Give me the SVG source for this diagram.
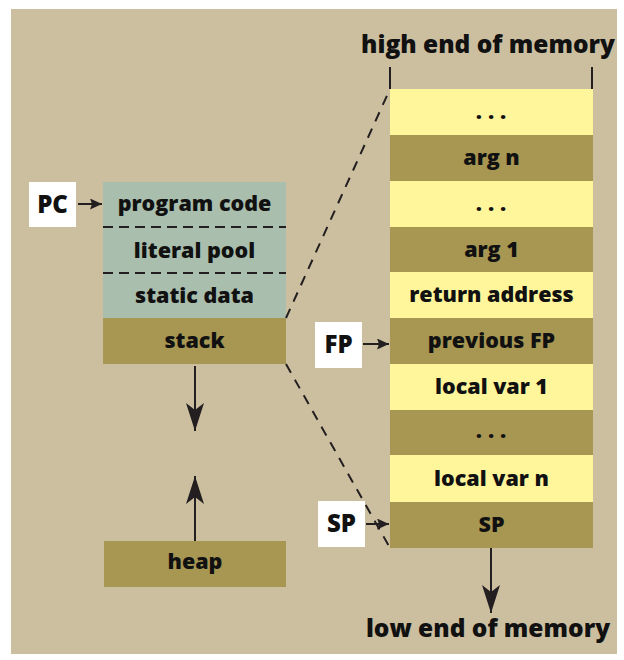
<svg xmlns="http://www.w3.org/2000/svg" width="624" height="660" viewBox="0 0 624 660">
  <style>
    .t { font-family: "Open Sans", Lato, "Liberation Sans", sans-serif; font-weight: 800; fill: #111; text-anchor: middle; }
    .cell { font-size: 21.5px; }
    .lbl { font-size: 24px; }
    .big { font-size: 24.5px; }
    .olive { fill: #A89752; }
    .yel { fill: #FFF59A; }
    .grn { fill: #A9BEAD; }
    .wht { fill: #FFFFFF; }
    .ln { stroke: #231F20; stroke-width: 2; fill: none; }
    .dash { stroke: #231F20; stroke-width: 2; fill: none; stroke-dasharray: 10 8; }
  </style>
  <defs>
    <marker id="ah" viewBox="0 0 28 18" refX="28" refY="9" markerWidth="28" markerHeight="18" orient="auto" markerUnits="userSpaceOnUse">
      <path d="M0,0 L28,9 L0,18 L7,9 Z" fill="#231F20"/>
    </marker>
    <marker id="ahs" viewBox="0 0 12 11" refX="12" refY="5.5" markerWidth="12" markerHeight="11" orient="auto" markerUnits="userSpaceOnUse">
      <path d="M0,0 L12,5.5 L0,11 L2,5.5 Z" fill="#231F20"/>
    </marker>
  </defs>

  <rect x="11" y="9" width="606" height="645" fill="#CCBFA0"/>

  <g id="code-block">
    <rect class="grn" x="103" y="182" width="183" height="136"/>
    <line class="ln" x1="103" y1="227" x2="286" y2="227" stroke-dasharray="10 6"/>
    <line class="ln" x1="103" y1="273" x2="286" y2="273" stroke-dasharray="10 6"/>
    <text class="t cell" x="194.5" y="211">program code</text>
    <text class="t cell" x="194.5" y="258">literal pool</text>
    <text class="t cell" x="194.5" y="303">static data</text>
  </g>
  <g id="stack">
    <rect class="olive" x="103" y="318" width="183" height="46"/>
    <text class="t cell" x="194.5" y="348">stack</text>
  </g>
  <g id="heap">
    <rect class="olive" x="104" y="541" width="182" height="46"/>
    <text class="t cell" x="195" y="569">heap</text>
  </g>

  <g id="pc">
    <rect class="wht" x="29" y="182" width="47" height="45"/>
    <text class="t lbl" x="52.5" y="213">PC</text>
  </g>
  <g id="fp">
    <rect class="wht" x="315" y="322" width="47" height="46"/>
    <text class="t lbl" x="338.5" y="353">FP</text>
  </g>
  <g id="sp">
    <rect class="wht" x="318" y="501" width="47" height="46"/>
    <text class="t lbl" x="341.5" y="532">SP</text>
  </g>

  <g id="frame">
    <rect class="yel" x="390" y="89" width="203" height="46"/>
    <rect class="olive" x="390" y="135" width="203" height="46"/>
    <rect class="yel" x="390" y="181" width="203" height="46"/>
    <rect class="olive" x="390" y="227" width="203" height="45"/>
    <rect class="yel" x="390" y="272" width="203" height="46"/>
    <rect class="olive" x="390" y="318" width="203" height="46"/>
    <rect class="yel" x="390" y="364" width="203" height="46"/>
    <rect class="olive" x="390" y="410" width="203" height="45"/>
    <rect class="yel" x="390" y="455" width="203" height="47"/>
    <rect class="olive" x="390" y="502" width="203" height="46"/>
    <text class="t cell" x="494" y="119" letter-spacing="6">...</text>
    <text class="t cell" x="491.5" y="165">arg n</text>
    <text class="t cell" x="494" y="211" letter-spacing="6">...</text>
    <text class="t cell" x="491.5" y="257">arg 1</text>
    <text class="t cell" x="491.5" y="302">return address</text>
    <text class="t cell" x="491.5" y="348">previous FP</text>
    <text class="t cell" x="491.5" y="394">local var 1</text>
    <text class="t cell" x="494" y="438" letter-spacing="6">...</text>
    <text class="t cell" x="491.5" y="486">local var n</text>
    <text class="t cell" x="491.5" y="532">SP</text>
  </g>

  <g id="labels">
    <text class="t big" x="488" y="53">high end of memory</text>
    <text class="t big" x="488" y="637">low end of memory</text>
  </g>

  <g id="connectors">
    <line class="ln" x1="390" y1="67" x2="390" y2="89"/>
    <line class="ln" x1="592" y1="67" x2="592" y2="89"/>
    <line class="dash" x1="286" y1="318" x2="390" y2="89"/>
    <line class="dash" x1="286" y1="364" x2="390" y2="548"/>
    <line class="ln" x1="78" y1="204" x2="102" y2="204" marker-end="url(#ahs)"/>
    <line class="ln" x1="363" y1="344" x2="389" y2="344" marker-end="url(#ahs)"/>
    <line class="ln" x1="366" y1="524" x2="389" y2="524" marker-end="url(#ahs)"/>
    <line class="ln" x1="195" y1="366" x2="195" y2="431" marker-end="url(#ah)" stroke-width="2.5"/>
    <line class="ln" x1="195" y1="541" x2="195" y2="476" marker-end="url(#ah)" stroke-width="2.5"/>
    <line class="ln" x1="491" y1="548" x2="491" y2="613" marker-end="url(#ah)" stroke-width="2.5"/>
  </g>
</svg>
